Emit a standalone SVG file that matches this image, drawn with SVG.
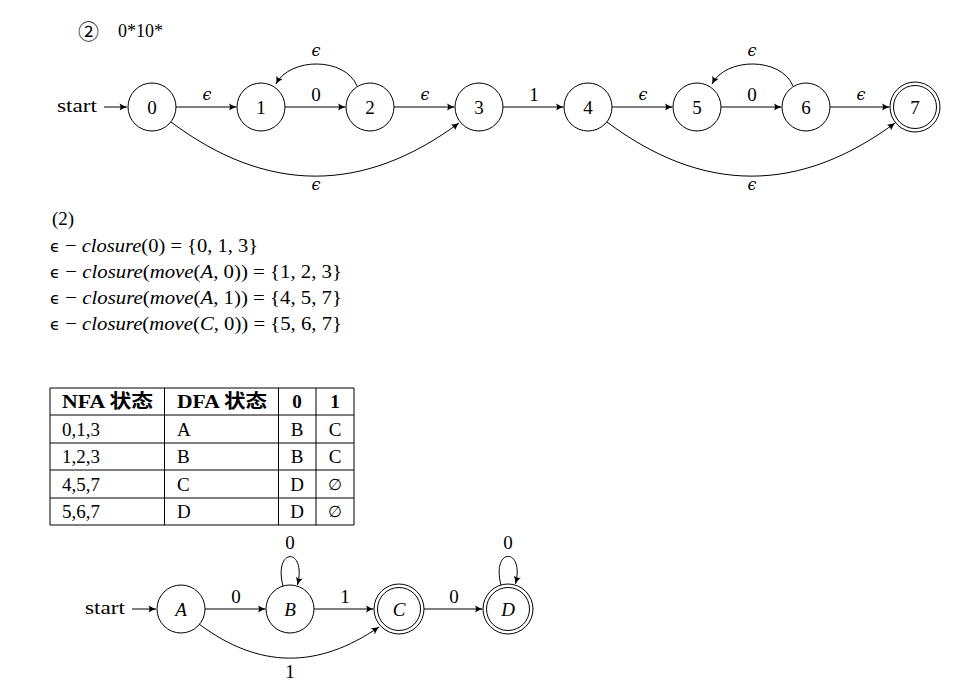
<svg xmlns="http://www.w3.org/2000/svg" width="965" height="690" viewBox="0 0 965 690">
<style>
text{font-family:"Liberation Serif","DejaVu Serif",serif;font-size:19px;fill:#000}
.c{text-anchor:middle}
.n circle{fill:none;stroke:#000;stroke-width:1}
.e path,.e line{fill:none;stroke:#000;stroke-width:1;marker-end:url(#arr)}
.eps{font-family:"DejaVu Serif",serif;font-style:italic;font-size:16px}
.it{font-style:italic}
.tb line{stroke:#000;stroke-width:1}
.b{font-weight:bold;font-family:"Liberation Serif","Noto Sans CJK SC",serif}
.es{font-family:"DejaVu Sans",sans-serif;font-size:15px}
</style>
<defs>
<marker id="arr" viewBox="-8 -4 9 8" refX="0" refY="0" markerWidth="9" markerHeight="8" orient="auto" markerUnits="userSpaceOnUse">
<path d="M-7.5,-3.5 Q-3,-0.8 0,0 Q-3,0.8 -7.5,3.5 Q-5.5,0 -7.5,-3.5Z" fill="#000"/>
</marker>
</defs>
<rect width="965" height="690" fill="#fff"/>

<text x="88.5" y="39" class="c" style="font-family:'Noto Sans CJK SC',sans-serif;font-size:21px">②</text>
<text x="118" y="37" style="font-size:18px">0*10*</text>

<g id="nfa-start"><text x="57" y="112" textLength="40" lengthAdjust="spacingAndGlyphs">start</text></g>
<g id="nfa0" class="n"><circle cx="152" cy="107" r="24"/><text x="152" y="113.5" class="c">0</text></g>
<g id="nfa1" class="n"><circle cx="261" cy="107" r="24"/><text x="261" y="113.5" class="c">1</text></g>
<g id="nfa2" class="n"><circle cx="370" cy="107" r="24"/><text x="370" y="113.5" class="c">2</text></g>
<g id="nfa3" class="n"><circle cx="479" cy="107" r="24"/><text x="479" y="113.5" class="c">3</text></g>
<g id="nfa4" class="n"><circle cx="588" cy="107" r="24"/><text x="588" y="113.5" class="c">4</text></g>
<g id="nfa5" class="n"><circle cx="697" cy="107" r="24"/><text x="697" y="113.5" class="c">5</text></g>
<g id="nfa6" class="n"><circle cx="806" cy="107" r="24"/><text x="806" y="113.5" class="c">6</text></g>
<g id="nfa7" class="n"><circle cx="915" cy="107" r="25"/><circle cx="915" cy="107" r="21.5"/><text x="915" y="113.5" class="c">7</text></g>

<g id="nfa-edges" class="e">
<line x1="104" y1="107" x2="127" y2="107"/>
<line x1="176" y1="107" x2="236.5" y2="107"/>
<line x1="285" y1="107" x2="345.5" y2="107"/>
<line x1="394" y1="107" x2="454.5" y2="107"/>
<line x1="503" y1="107" x2="563.5" y2="107"/>
<line x1="612" y1="107" x2="672.5" y2="107"/>
<line x1="721" y1="107" x2="781.5" y2="107"/>
<line x1="830" y1="107" x2="889.5" y2="107"/>
<path d="M357,86 C345,57 290,57 276,84"/>
<path d="M793,86 C781,57 726,57 712,84"/>
<path d="M171,122 C267,194 363,194 459,123"/>
<path d="M607,122 C703,194 799,194 895,123"/>
</g>
<g id="nfa-labels">
<text x="207" y="100" class="c eps">ϵ</text>
<text x="316" y="101" class="c">0</text>
<text x="425" y="100" class="c eps">ϵ</text>
<text x="534" y="101" class="c">1</text>
<text x="643" y="100" class="c eps">ϵ</text>
<text x="752" y="101" class="c">0</text>
<text x="861" y="100" class="c eps">ϵ</text>
<text x="316" y="56" class="c eps">ϵ</text>
<text x="752" y="56" class="c eps">ϵ</text>
<text x="316" y="190" class="c eps">ϵ</text>
<text x="752" y="190" class="c eps">ϵ</text>
</g>

<g id="closures">
<text x="52" y="225">(2)</text>
<text x="50" y="252" textLength="208" lengthAdjust="spacingAndGlyphs"><tspan class="es">ϵ</tspan> − <tspan class="it">closure</tspan>(0) = {0, 1, 3}</text>
<text x="50" y="278" textLength="292" lengthAdjust="spacingAndGlyphs"><tspan class="es">ϵ</tspan> − <tspan class="it">closure</tspan>(<tspan class="it">move</tspan>(<tspan class="it">A</tspan>, 0)) = {1, 2, 3}</text>
<text x="50" y="304" textLength="292" lengthAdjust="spacingAndGlyphs"><tspan class="es">ϵ</tspan> − <tspan class="it">closure</tspan>(<tspan class="it">move</tspan>(<tspan class="it">A</tspan>, 1)) = {4, 5, 7}</text>
<text x="50" y="330" textLength="292" lengthAdjust="spacingAndGlyphs"><tspan class="es">ϵ</tspan> − <tspan class="it">closure</tspan>(<tspan class="it">move</tspan>(<tspan class="it">C</tspan>, 0)) = {5, 6, 7}</text>
</g>

<g id="table" class="tb">
<line x1="50" y1="388" x2="354" y2="388"/>
<line x1="50" y1="415" x2="354" y2="415"/>
<line x1="50" y1="443" x2="354" y2="443"/>
<line x1="50" y1="470" x2="354" y2="470"/>
<line x1="50" y1="498" x2="354" y2="498"/>
<line x1="50" y1="525" x2="354" y2="525"/>
<line x1="50" y1="388" x2="50" y2="525"/>
<line x1="164.5" y1="388" x2="164.5" y2="525"/>
<line x1="278.5" y1="388" x2="278.5" y2="525"/>
<line x1="316" y1="388" x2="316" y2="525"/>
<line x1="354" y1="388" x2="354" y2="525"/>
<text x="62" y="408" class="b" textLength="91" lengthAdjust="spacingAndGlyphs">NFA 状态</text>
<text x="177" y="408" class="b" textLength="90" lengthAdjust="spacingAndGlyphs">DFA 状态</text>
<text x="297" y="408" class="b c">0</text>
<text x="335" y="408" class="b c">1</text>
<text x="62" y="436">0,1,3</text><text x="177" y="436">A</text><text x="297" y="436" class="c">B</text><text x="335" y="436" class="c">C</text>
<text x="62" y="463">1,2,3</text><text x="177" y="463">B</text><text x="297" y="463" class="c">B</text><text x="335" y="463" class="c">C</text>
<text x="62" y="491">4,5,7</text><text x="177" y="491">C</text><text x="297" y="491" class="c">D</text><text x="335" y="490" class="c" style="font-family:'DejaVu Sans',sans-serif;font-size:16px">∅</text>
<text x="62" y="518">5,6,7</text><text x="177" y="518">D</text><text x="297" y="518" class="c">D</text><text x="335" y="517" class="c" style="font-family:'DejaVu Sans',sans-serif;font-size:16px">∅</text>
</g>

<g id="dfa-start"><text x="85" y="614" textLength="40" lengthAdjust="spacingAndGlyphs">start</text></g>
<g id="dfaA" class="n"><circle cx="181" cy="609" r="24"/><text x="181" y="615.5" class="c it">A</text></g>
<g id="dfaB" class="n"><circle cx="290" cy="609" r="24"/><text x="290" y="615.5" class="c it">B</text></g>
<g id="dfaC" class="n"><circle cx="399" cy="609" r="25"/><circle cx="399" cy="609" r="21.5"/><text x="399" y="615.5" class="c it">C</text></g>
<g id="dfaD" class="n"><circle cx="508" cy="609" r="25"/><circle cx="508" cy="609" r="21.5"/><text x="508" y="615.5" class="c it">D</text></g>

<g id="dfa-edges" class="e">
<line x1="132" y1="609" x2="156" y2="609"/>
<line x1="205" y1="609" x2="265.5" y2="609"/>
<line x1="314" y1="609" x2="373.5" y2="609"/>
<line x1="424" y1="609" x2="482.5" y2="609"/>
<path d="M283,586 C273,547 307,547 297.5,585"/>
<path d="M501,585 C491,547 525,547 515.5,584"/>
<path d="M199,624 C259,669 318,669 379,627"/>
</g>
<g id="dfa-labels">
<text x="236" y="603" class="c">0</text>
<text x="345" y="603" class="c">1</text>
<text x="454" y="603" class="c">0</text>
<text x="290" y="549" class="c">0</text>
<text x="508" y="549" class="c">0</text>
<text x="290" y="678" class="c">1</text>
</g>
</svg>
